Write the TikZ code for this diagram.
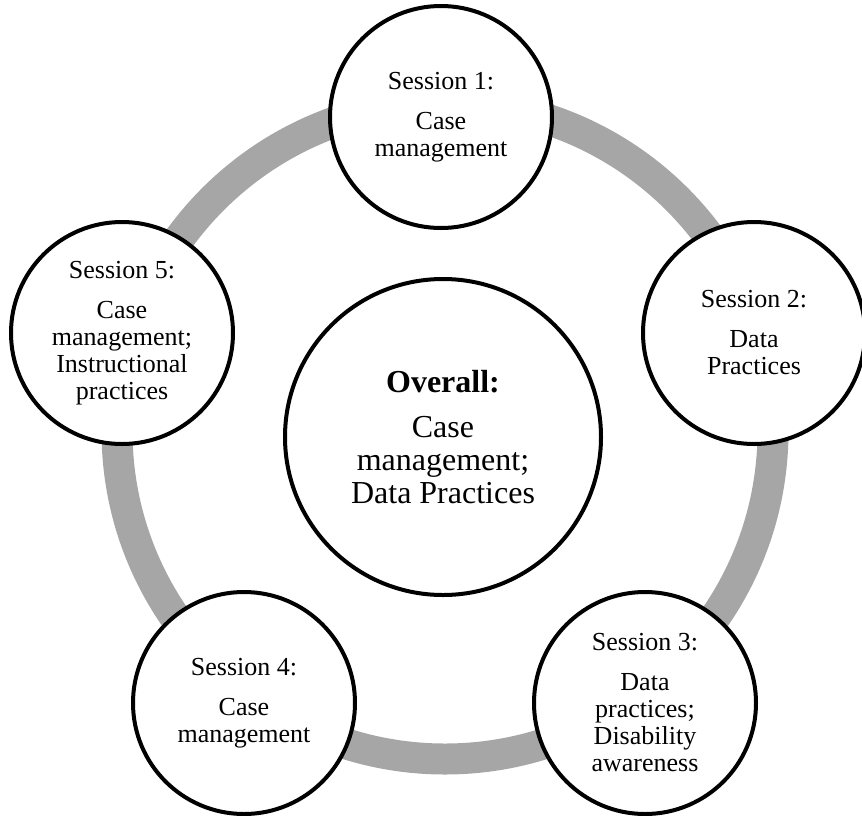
\documentclass[tikz,border=0pt]{standalone}
\usepackage{fontspec}
\setmainfont{Liberation Serif}
\tikzset{
  session/.style={circle, draw, line width=2pt, fill=white, minimum size=111pt,
    inner sep=0pt, align=center, font=\fontsize{13}{13.5}\selectfont},
  overall/.style={circle, draw, line width=2pt, fill=white, minimum size=158pt,
    inner sep=0pt, align=center, font=\fontsize{16}{16.5}\selectfont},
  ring/.style={line width=15.5pt, color=ringgray}
}
\definecolor{ringgray}{RGB}{166,166,166}
\begin{document}
\begin{tikzpicture}[x=0.5pt,y=-0.5pt]
\useasboundingbox (0,0) rectangle (862,815);

% ring behind the sessions
\coordinate (ringc) at (445,431);
\draw [ring] (ringc) circle [radius=328];

\node [overall] (overall) at (443,437) {\textbf{Overall:}\\[6pt] Case\\ management;\\ Data Practices};

\node [session] (s1) at (441,117) {Session 1:\\[6.5pt] Case\\ management};
\node [session] (s2) at (754,333) {Session 2:\\[6.5pt] Data\\ Practices};
\node [session] (s3) at (645,703) {Session 3:\\[6.5pt] Data\\ practices;\\ Disability\\ awareness};
\node [session] (s4) at (244,703) {Session 4:\\[6.5pt] Case\\ management};
\node [session] (s5) at (122,333) {Session 5:\\[6.5pt] Case\\ management;\\ Instructional\\ practices};

\end{tikzpicture}
\end{document}
